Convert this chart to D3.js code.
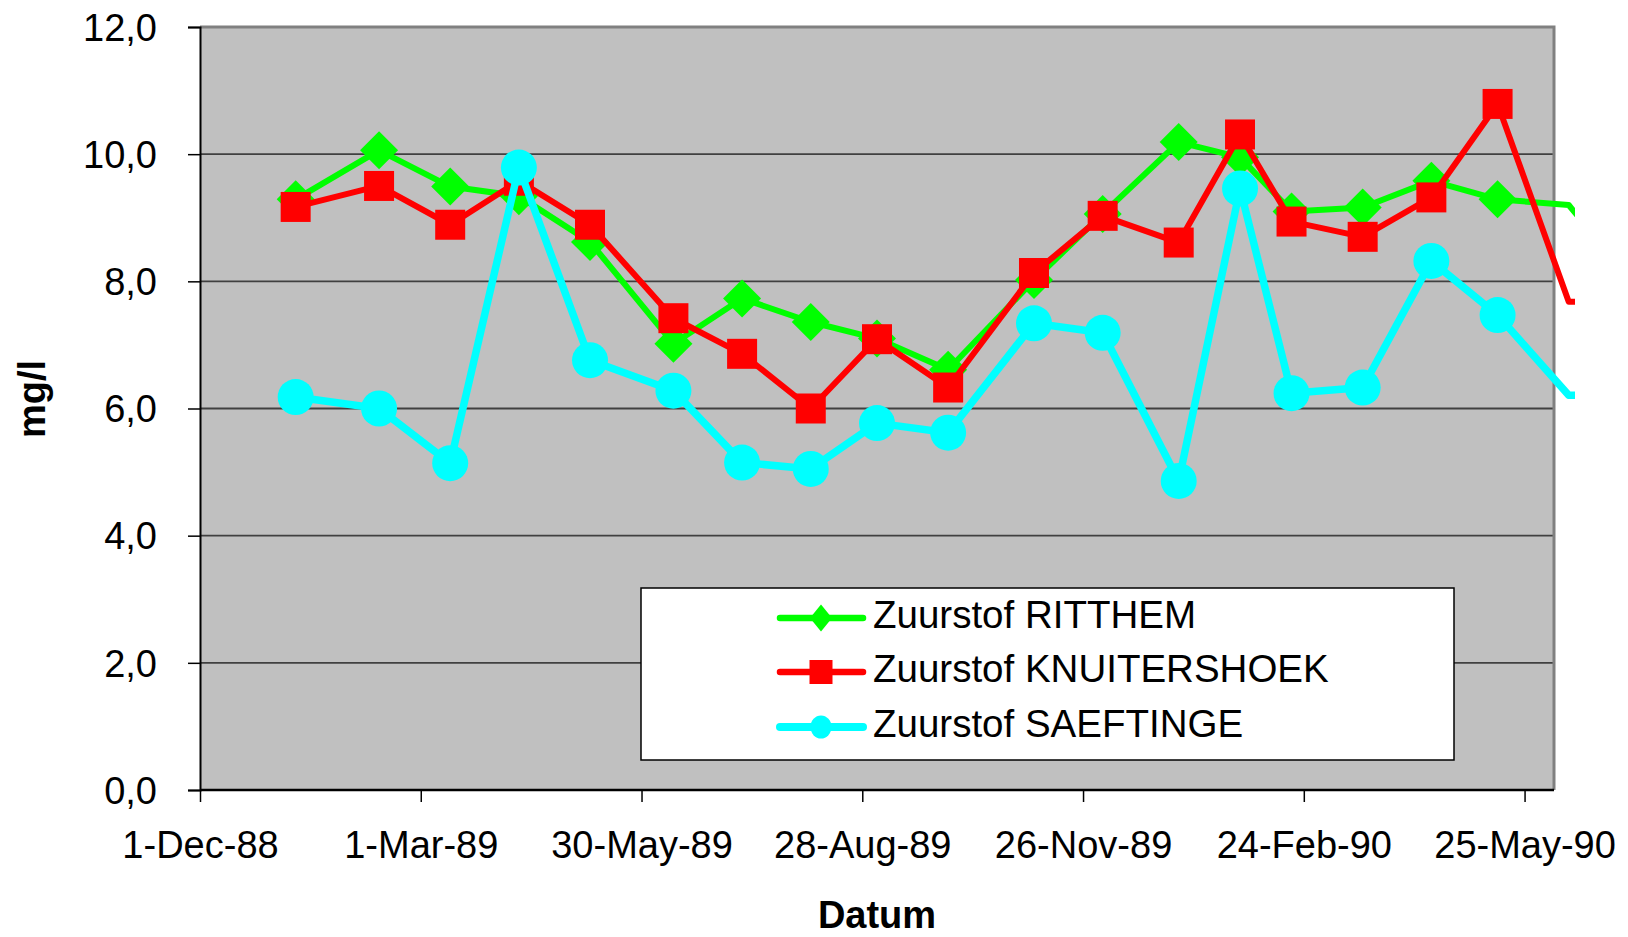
<!DOCTYPE html>
<html>
<head>
<meta charset="utf-8">
<script src="https://cdn.jsdelivr.net/npm/d3@7"></script>
<style>
  html, body { margin: 0; padding: 0; background: #ffffff; }
  svg { display: block; }
  text { font-family: "Liberation Sans", Arial, sans-serif; fill: #000; }
</style>
</head>
<body>
<svg id="chart" width="1628" height="937"></svg>
<script>
// ---------------- data ----------------
const sampleDates = ["1989-01-09","1989-02-12","1989-03-13","1989-04-10","1989-05-09","1989-06-12",
  "1989-07-10","1989-08-07","1989-09-03","1989-10-02","1989-11-06","1989-12-04",
  "1990-01-04","1990-01-29","1990-02-19","1990-03-20","1990-04-17","1990-05-14","1990-06-12","1990-07-10"];
const ritthem = [9.29,10.06,9.49,9.34,8.62,7.02,7.73,7.36,7.10,6.61,8.02,9.06,10.19,9.95,9.10,9.16,9.58,9.29,9.20,7.90];
const knuitershoek = [9.17,9.50,8.89,9.58,8.89,7.42,6.86,6.00,7.09,6.33,8.13,9.03,8.61,10.31,8.94,8.70,9.32,10.79,7.68,7.65];
const saeftinge = [6.18,6.00,5.14,9.79,6.76,6.28,5.15,5.05,5.77,5.62,7.34,7.19,4.86,9.46,6.24,6.33,8.32,7.47,6.21,6.20];
const seriesNames = ["Zuurstof RITTHEM","Zuurstof KNUITERSHOEK","Zuurstof SAEFTINGE"];
const xTickDates = ["1988-12-01","1989-03-01","1989-05-30","1989-08-28","1989-11-26","1990-02-24","1990-05-25"];
const xTickLabels = ["1-Dec-88","1-Mar-89","30-May-89","28-Aug-89","26-Nov-89","24-Feb-90","25-May-90"];
const yTicks = [0,2,4,6,8,10,12];
const yTickLabels = ["0,0","2,0","4,0","6,0","8,0","10,0","12,0"];
const xAxisTitle = "Datum";
const yAxisTitle = "mg/l";

// ---------------- layout ----------------
const L = 200, R = 1554, T = 27, B = 790;
const parse = d3.utcParse("%Y-%m-%d");
const x = d3.scaleUtc().domain([parse("1988-12-01"), parse("1990-06-06")]).range([L, R]);
const y = d3.scaleLinear().domain([0, 12]).range([B, T]);

const svg = d3.select("#chart");

svg.append("defs").append("clipPath").attr("id", "lineclip")
  .append("rect").attr("x", L).attr("y", 0).attr("width", 1575 - L).attr("height", B);

// plot background
svg.append("rect").attr("x", L).attr("y", T).attr("width", R - L).attr("height", B - T)
  .attr("fill", "#c0c0c0");

// gridlines
svg.append("g").selectAll("line").data(yTicks.filter(v => v > 0 && v < 12)).join("line")
  .attr("x1", L).attr("x2", R).attr("y1", d => y(d)).attr("y2", d => y(d))
  .attr("stroke", "#404040").attr("stroke-width", 1.8);

// top / right border
svg.append("path").attr("d", `M${L},${T}H${R}V${B}`).attr("fill", "none")
  .attr("stroke", "#808080").attr("stroke-width", 3);

// y axis
const yAxis = d3.axisLeft(y).tickValues(yTicks).tickSize(12).tickPadding(31)
  .tickFormat((d, i) => yTickLabels[i]);
const gy = svg.append("g").attr("transform", `translate(${L},0)`).call(yAxis);
gy.select(".domain").attr("stroke", "#000").attr("stroke-width", 2);
gy.selectAll(".tick line").attr("stroke", "#000").attr("stroke-width", 1.5);
gy.selectAll(".tick text").attr("font-size", 38).attr("font-family", "Liberation Sans, Arial, sans-serif")
  .attr("dy", "0.35em").attr("fill", "#000");

// x axis
const xAxis = d3.axisBottom(x).tickValues(xTickDates.map(parse)).tickSize(12).tickPadding(0)
  .tickFormat((d, i) => xTickLabels[i]);
const gx = svg.append("g").attr("transform", `translate(0,${B})`).call(xAxis);
gx.select(".domain").attr("d", `M${L},0H${R}`).attr("stroke", "#000").attr("stroke-width", 2.5);
gx.selectAll(".tick line").attr("stroke", "#000").attr("stroke-width", 1.5);
gx.selectAll(".tick text").attr("font-size", 38).attr("font-family", "Liberation Sans, Arial, sans-serif")
  .attr("y", 68).attr("dy", 0).attr("fill", "#000");

// axis titles
svg.append("text").attr("x", (L + R) / 2).attr("y", 928).attr("text-anchor", "middle")
  .attr("font-size", 38).attr("font-weight", "bold").text(xAxisTitle);
svg.append("text").attr("transform", "translate(45,399) rotate(-90)").attr("text-anchor", "middle")
  .attr("font-size", 38).attr("font-weight", "bold").text(yAxisTitle);

// ---------------- series ----------------
const dates = sampleDates.map(parse);
const series = [
  { name: seriesNames[0], values: ritthem, color: "#00ff00", width: 6, marker: "diamond" },
  { name: seriesNames[1], values: knuitershoek, color: "#ff0000", width: 6, marker: "square" },
  { name: seriesNames[2], values: saeftinge, color: "#00ffff", width: 7.5, marker: "circle" }
];

function markerPath(type, cx, cy, s) {
  if (type === "diamond") return `M${cx},${cy - s.h}L${cx + s.w},${cy}L${cx},${cy + s.h}L${cx - s.w},${cy}Z`;
  if (type === "square") return `M${cx - s.w},${cy - s.h}h${2 * s.w}v${2 * s.h}h${-2 * s.w}Z`;
  return `M${cx - s.w},${cy}a${s.w},${s.h} 0 1,0 ${2 * s.w},0a${s.w},${s.h} 0 1,0 ${-2 * s.w},0Z`;
}
const plotSize = { diamond: { w: 19, h: 19 }, square: { w: 15, h: 15 }, circle: { w: 18, h: 18 } };
const legendSize = { diamond: { w: 11, h: 13.5 }, square: { w: 11.5, h: 12 }, circle: { w: 10.5, h: 11.5 } };

const line = d3.line().x((d, i) => x(dates[i])).y(d => y(d));
const maxDate = x.domain()[1];

series.forEach(s => {
  const g = svg.append("g");
  g.append("path").attr("d", line(s.values)).attr("fill", "none")
    .attr("stroke", s.color).attr("stroke-width", s.width).attr("stroke-linejoin", "round")
    .attr("clip-path", "url(#lineclip)");
  g.selectAll("path.m").data(s.values.map((v, i) => ({ v, d: dates[i] })).filter(p => p.d <= maxDate))
    .join("path").attr("class", "m")
    .attr("d", p => markerPath(s.marker, x(p.d), y(p.v), plotSize[s.marker]))
    .attr("fill", s.color);
});

// ---------------- legend ----------------
const lg = svg.append("g");
lg.append("rect").attr("x", 641).attr("y", 588).attr("width", 1454 - 641).attr("height", 760 - 588)
  .attr("fill", "#fff").attr("stroke", "#000").attr("stroke-width", 1.5);
const rowY = [618, 672, 727];
series.forEach((s, i) => {
  lg.append("line").attr("x1", 780).attr("x2", 863).attr("y1", rowY[i]).attr("y2", rowY[i])
    .attr("stroke", s.color).attr("stroke-width", s.width + 0.5).attr("stroke-linecap", "round");
  lg.append("path").attr("d", markerPath(s.marker, 821, rowY[i], legendSize[s.marker])).attr("fill", s.color);
  lg.append("text").attr("x", 873).attr("y", rowY[i] + 10).attr("font-size", 38.5).text(s.name);
});
</script>
</body>
</html>
